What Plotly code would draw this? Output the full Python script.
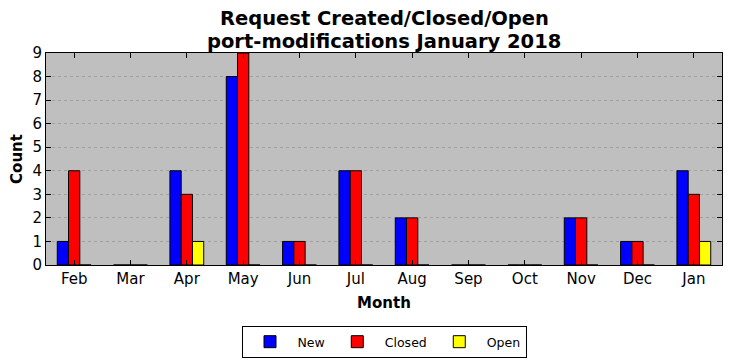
import plotly.graph_objects as go

months = ["Feb", "Mar", "Apr", "May", "Jun", "Jul", "Aug", "Sep", "Oct", "Nov", "Dec", "Jan"]
new_vals = [1, 0, 4, 8, 1, 4, 2, 0, 0, 2, 1, 4]
closed_vals = [4, 0, 3, 9, 1, 4, 2, 0, 0, 2, 1, 3]
open_vals = [0, 0, 1, 0, 0, 0, 0, 0, 0, 0, 0, 1]
y_ticks = list(range(0, 10))

font = "DejaVu Sans"
fig = go.Figure()
for name, vals, col in [("New", new_vals, "#0000ff"), ("Closed", closed_vals, "#ff0000"), ("Open", open_vals, "#ffff00")]:
    fig.add_trace(go.Bar(x=months, y=vals, name=name,
                         marker=dict(color=col, line=dict(color="black", width=1))))

# page body has a default 8px margin, so the figure is sized to fill the rest of the window
fig.update_layout(
    width=724, height=353,
    margin=dict(l=38, r=10, t=45, b=96, autoexpand=False),
    barmode="group", bargap=0.4, bargroupgap=0,
    plot_bgcolor="#bfbfbf", paper_bgcolor="white",
    font=dict(family=font, color="black"),
    xaxis=dict(range=[-0.5, 11.5], showline=True, linecolor="black", linewidth=1, mirror="ticks",
               ticks="inside", ticklen=5, tickcolor="black", tickfont=dict(size=15),
               showgrid=False, automargin=False,
               title=dict(text="<b>Month</b>", font=dict(size=15), standoff=10)),
    yaxis=dict(range=[0, 9], tickvals=y_ticks, showline=True, linecolor="black", linewidth=1, mirror="ticks",
               ticks="inside", ticklen=5, tickcolor="black", tickfont=dict(size=15),
               showgrid=True, gridcolor="#a0a0a0", griddash="dot", gridwidth=1,
               zeroline=False, automargin=False,
               title=dict(text="<b>Count</b>", font=dict(size=15), standoff=6)),
    legend=dict(orientation="h", x=0.5, xanchor="center", y=0.099, yref="container", yanchor="top",
                bordercolor="black", borderwidth=1, bgcolor="white",
                font=dict(size=12.5), itemwidth=45, traceorder="normal"),
    annotations=[
        dict(text="<b>Request Created/Closed/Open</b>",
             x=0.5, xref="paper", y=1 + 34 / 212, yref="paper", xanchor="center", yanchor="middle",
             showarrow=False, font=dict(size=19.5, family=font)),
        dict(text="<b>port-modifications January 2018</b>",
             x=0.5, xref="paper", y=1 + 12 / 212, yref="paper", xanchor="center", yanchor="middle",
             showarrow=False, font=dict(size=19.5, family=font)),
    ],
)

fig.write_html("out.html")
